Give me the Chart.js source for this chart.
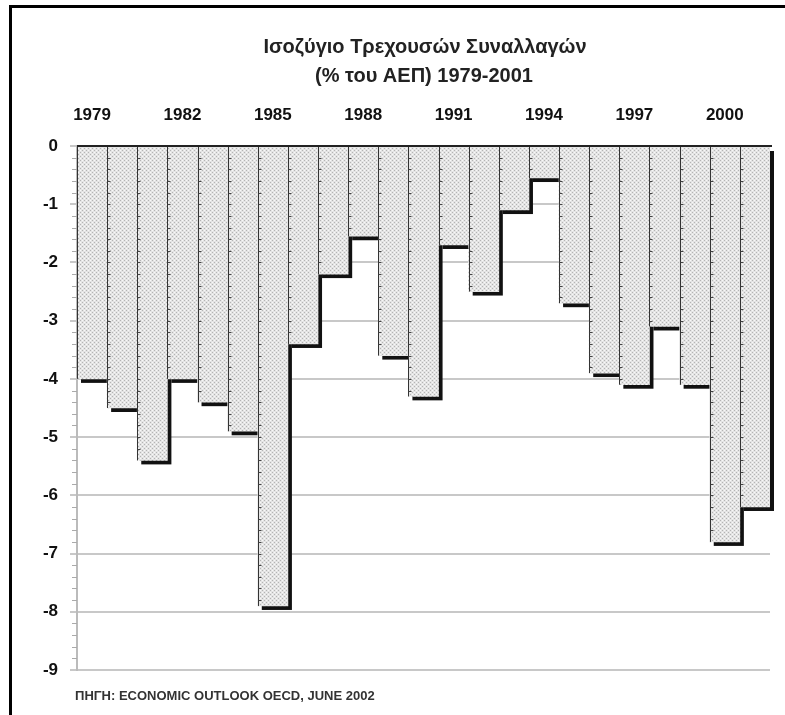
<!DOCTYPE html>
<html>
<head>
<meta charset="utf-8">
<script src="https://cdn.jsdelivr.net/npm/chart.js@4"></script>
<style>
  html, body { margin: 0; padding: 0; background: #fff; }
  #wrap { position: relative; width: 785px; height: 715px; }
  #frame { position: absolute; left: 9px; top: 5px; right: 0; bottom: 0; border-top: 3px solid #000; border-left: 3px solid #000; pointer-events: none; }
</style>
</head>
<body>
<div id="wrap">
  <canvas id="c" width="785" height="715"></canvas>
  <div id="frame"></div>
</div>
<script>
const titleLines = ['Ισοζύγιο Τρεχουσών Συναλλαγών', '(% του ΑΕΠ) 1979-2001'];
const sourceNote = 'ΠΗΓΗ: ECONOMIC OUTLOOK OECD, JUNE 2002';
const years = ['1979','1980','1981','1982','1983','1984','1985','1986','1987','1988','1989','1990',
               '1991','1992','1993','1994','1995','1996','1997','1998','1999','2000','2001'];
const balance = [-4.0, -4.5, -5.4, -4.0, -4.4, -4.9, -7.9, -3.4, -2.2, -1.55, -3.6, -4.3,
                 -1.7, -2.5, -1.1, -0.55, -2.7, -3.9, -4.1, -3.1, -4.1, -6.8, -6.2];
const shownYearLabels = ['1979','1982','1985','1988','1991','1994','1997','2000'];
const yTicks = [0, -1, -2, -3, -4, -5, -6, -7, -8, -9];

const NARROW = "'Liberation Sans Narrow', 'Arial Narrow', 'Liberation Sans', sans-serif";
const SANS = "'Liberation Sans', Arial, sans-serif";

function makePattern() {
  const p = document.createElement('canvas');
  p.width = 4; p.height = 4;
  const g = p.getContext('2d');
  g.fillStyle = '#e4e4e4'; g.fillRect(0, 0, 4, 4);
  g.fillStyle = '#b4b4b4';
  g.fillRect(0, 0, 1, 1); g.fillRect(2, 2, 1, 1);
  g.fillStyle = '#f8f8f8';
  g.fillRect(2, 0, 1, 1); g.fillRect(0, 2, 1, 1);
  return g.createPattern(p, 'repeat');
}

const decorPlugin = {
  id: 'decor',
  beforeDatasetsDraw(chart) {
    const ctx = chart.ctx;
    const meta = chart.getDatasetMeta(0);
    ctx.save();
    ctx.fillStyle = '#111';
    meta.data.forEach(bar => {
      const left = bar.x - bar.width / 2;
      const top = Math.min(bar.y, bar.base);
      const h = Math.abs(bar.y - bar.base);
      ctx.fillRect(left + 4, top + 4, bar.width, h);
    });
    ctx.restore();
  },
  afterDatasetsDraw(chart) {
    const ctx = chart.ctx;
    const y = chart.scales.y;
    const area = chart.chartArea;
    const meta = chart.getDatasetMeta(0);
    ctx.save();
    meta.data.forEach((bar, i) => {
      const left = Math.round(bar.x - bar.width / 2) + 0.5;
      const bottom = bar.y;
      ctx.strokeStyle = '#333';
      ctx.lineWidth = 1;
      ctx.beginPath();
      ctx.moveTo(left, bar.base);
      ctx.lineTo(left, bottom);
      ctx.stroke();
      if (i > 0) {
        ctx.strokeStyle = '#444';
        ctx.beginPath();
        for (let v = -0.2; v > balance[i] + 0.05; v -= 0.2) {
          const py = Math.round(y.getPixelForValue(v)) + 0.5;
          ctx.moveTo(left, py); ctx.lineTo(left + 3, py);
        }
        ctx.stroke();
      }
    });
    ctx.strokeStyle = '#aaa';
    ctx.lineWidth = 1;
    ctx.beginPath();
    for (let k = 1; k < 45; k++) {
      if (k % 5 === 0) continue;
      const py = Math.round(y.getPixelForValue(-k * 0.2)) + 0.5;
      ctx.moveTo(area.left - 5, py); ctx.lineTo(area.left, py);
    }
    ctx.stroke();
    const zy = y.getPixelForValue(0);
    ctx.strokeStyle = '#222';
    ctx.lineWidth = 2;
    ctx.beginPath();
    ctx.moveTo(area.left, zy); ctx.lineTo(area.right + 2, zy);
    ctx.stroke();
    ctx.restore();
  },
  afterDraw(chart) {
    const ctx = chart.ctx;
    ctx.save();
    ctx.fillStyle = '#222';
    ctx.textAlign = 'center';
    ctx.textBaseline = 'alphabetic';
    ctx.font = 'bold 20px ' + SANS;
    ctx.fillText(titleLines[0], 425, 53);
    ctx.fillText(titleLines[1], 424, 82);
    ctx.textAlign = 'left';
    ctx.fillStyle = '#333';
    ctx.font = 'bold 13px ' + NARROW;
    ctx.fillText(sourceNote, 75, 700);
    ctx.restore();
  }
};

new Chart(document.getElementById('c'), {
  type: 'bar',
  data: {
    labels: years,
    datasets: [{
      data: balance,
      backgroundColor: makePattern(),
      borderWidth: 0,
      categoryPercentage: 1.0,
      barPercentage: 1.0
    }]
  },
  options: {
    responsive: false,
    animation: false,
    events: [],
    layout: { padding: { top: 100, left: 0, right: 15, bottom: 45 } },
    plugins: { legend: { display: false }, tooltip: { enabled: false }, title: { display: false } },
    scales: {
      x: {
        position: 'top',
        grid: { display: false, drawTicks: false },
        border: { display: false },
        ticks: {
          autoSkip: false, maxRotation: 0, minRotation: 0, padding: 20,
          color: '#111',
          font: { family: NARROW, size: 17, weight: 'bold' },
          callback: function(v, i) { const l = years[i]; return shownYearLabels.includes(l) ? l : ''; }
        },
        afterFit: s => { s.height = 46; }
      },
      y: {
        min: -9, max: 0,
        afterBuildTicks: s => { s.ticks = yTicks.map(v => ({ value: v })); },
        grid: {
          color: ctx => (ctx.tick && ctx.tick.value === 0) ? '#222' : '#c8c8c8',
          lineWidth: 2,
          tickLength: 7,
          tickColor: '#c8c8c8'
        },
        border: { display: true, color: '#bbb', width: 2 },
        ticks: {
          padding: 12,
          color: '#111',
          font: { family: NARROW, size: 17, weight: 'bold' },
          callback: v => String(v)
        },
        afterFit: s => { s.width = 77; }
      }
    }
  },
  plugins: [decorPlugin]
});
</script>
</body>
</html>
